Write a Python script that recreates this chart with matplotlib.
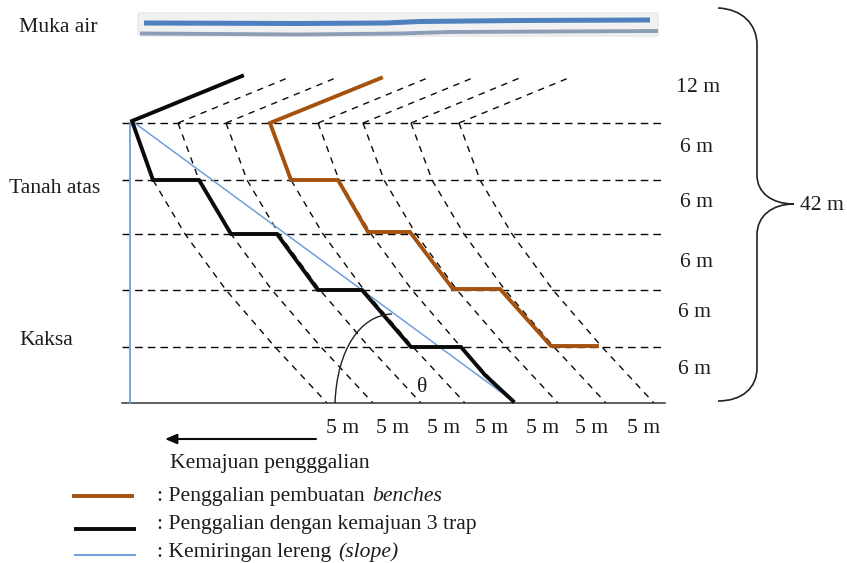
import matplotlib
matplotlib.use("Agg")
import matplotlib.pyplot as plt
from matplotlib.path import Path
from matplotlib.patches import PathPatch, FancyBboxPatch

plt.rcParams['font.family'] = ['Liberation Serif', 'DejaVu Serif']

# Diagram data (picture coordinates)
level_y = [123, 180, 234, 290, 347]
ground_y = 403
slope_top_x = [132, 178, 226, 270, 318, 363, 411, 459]
slope_offset_y = [123, 180, 234, 290, 347, 403]
slope_offset_x = [0, 21, 53, 94, 143, 195]
upper_end_x = [None, 290, 338, None, 430, 475, 522, 571]
upper_end_y = 77

black_x = [242, 132, 153, 199, 231, 277, 318, 362, 411, 461, 485, 513]
black_y = [76, 121, 180, 180, 234, 234, 290, 290, 347, 347, 375, 401]
brown_x = [381, 270, 291, 338, 368, 410, 453, 500, 551, 597]
brown_y = [78, 123, 180, 180, 232, 232, 289, 289, 346, 346]
slope_x = [132, 513]
slope_y = [121, 401]
wall_x = [130, 130]
wall_y = [123, 403]
water_x = [144, 300, 385, 420, 520, 650]
water_y = [23, 23.5, 23, 21.5, 20.5, 20]
shadow_x = [140, 300, 400, 450, 658]
shadow_y = [33.5, 34.5, 33.5, 32, 31]

bottom_labels_x = [343, 393, 444, 492, 543, 592, 644]
bottom_label = "5 m"
right_labels = ["12 m", "6 m", "6 m", "6 m", "6 m", "6 m"]
right_labels_x = [698, 696, 696, 696, 695, 695]
right_labels_y = [86, 146, 201, 261, 311, 368]
left_labels = ["Muka air", "Tanah atas", "Kaksa"]
left_labels_x = [19, 9, 19]
left_labels_y = [26, 187, 339]

BLACK = "#0a0a0a"
BROWN = "#a5520f"
BLUE = "#6f9fdc"
TEXT = "#1c1c1c"
FS = 15.6
DY = 1.5

fig = plt.figure(figsize=(8.47, 5.63), dpi=100)
ax = fig.add_axes([0, 0, 1, 1])
ax.set_xlim(0, 847)
ax.set_ylim(563, 0)
ax.axis("off")


def label(x, y, s, ha="left", **kw):
    ax.text(x, y + DY, s, fontsize=FS, color=TEXT, ha=ha, va="center", **kw)


# Water band
ax.add_patch(FancyBboxPatch((139, 14), 518, 21, boxstyle="round,pad=1,rounding_size=2",
                            fc="#f1f1f1", ec="#e8e8e8", lw=1, zorder=1))
ax.plot(shadow_x, shadow_y, color="#8d9db6", lw=2.8, solid_capstyle="butt", zorder=2)
ax.plot(water_x, water_y, color="#4d80bd", lw=3.6, solid_capstyle="butt", zorder=3)

dash = (0, (5.5, 3.6))
dash2 = (0, (4.6, 4.2))
# Benches levels
for y in level_y:
    ax.plot([122, 665], [y, y], color=BLACK, lw=1.0, ls=dash, zorder=3)

# Dashed slope lines
for x0, xe in zip(slope_top_x, upper_end_x):
    xs = [x0 + dx for dx in slope_offset_x]
    ax.plot(xs, slope_offset_y, color=BLACK, lw=1.0, ls=dash2, zorder=3)
    if xe is not None:
        ax.plot([x0, xe], [123, upper_end_y], color=BLACK, lw=1.0, ls=dash2, zorder=3)

# Ground
ax.plot([122, 665], [ground_y, ground_y], color="#333333", lw=1.1, zorder=4)

# Slope lines
ax.plot(wall_x, wall_y, color=BLUE, lw=1.3, zorder=4)
ax.plot(slope_x, slope_y, color=BLUE, lw=1.1, zorder=4)

# Profiles
ax.plot(brown_x, brown_y, color=BROWN, lw=2.8, solid_joinstyle="miter", zorder=5)
ax.plot(black_x, black_y, color=BLACK, lw=2.8, solid_joinstyle="miter", zorder=6)

# Angle arc
arc = Path([(335, 403), (337, 350), (360, 315), (392, 314)],
           [Path.MOVETO, Path.CURVE4, Path.CURVE4, Path.CURVE4])
ax.add_patch(PathPatch(arc, fc="none", ec="#222222", lw=1.0, zorder=7))
label(422, 386, "θ", ha="center", zorder=8)

# Right brace
brace = Path(
    [(718, 8), (742, 9), (757, 24), (757, 45),
     (757, 175), (757, 193), (772, 204), (794, 204),
     (772, 204), (757, 216), (757, 235),
     (757, 368), (757, 388), (742, 401), (718, 401)],
    [Path.MOVETO, Path.CURVE4, Path.CURVE4, Path.CURVE4,
     Path.LINETO, Path.CURVE4, Path.CURVE4, Path.CURVE4,
     Path.CURVE4, Path.CURVE4, Path.CURVE4,
     Path.LINETO, Path.CURVE4, Path.CURVE4, Path.CURVE4])
ax.add_patch(PathPatch(brace, fc="none", ec="#222222", lw=1.2))

# Labels
for x in bottom_labels_x:
    label(x, 427, bottom_label, ha="center")
for s, x, y in zip(right_labels, right_labels_x, right_labels_y):
    label(x, y, s, ha="center")
label(822, 204, "42 m", ha="center")
for s, x, y in zip(left_labels, left_labels_x, left_labels_y):
    label(x, y, s)

# Advance arrow
ax.annotate("", xy=(165, 439), xytext=(316, 439),
            arrowprops=dict(arrowstyle="-|>,head_length=0.7,head_width=0.3",
                            color=BLACK, lw=1.5, shrinkA=0, shrinkB=0))
label(170, 462, "Kemajuan pengggalian")

# Legend
ax.plot([72, 134], [496, 496], color=BROWN, lw=2.8, solid_capstyle="butt")
ax.plot([74, 136], [529, 529], color=BLACK, lw=2.8, solid_capstyle="butt")
ax.plot([74, 136], [555, 555], color=BLUE, lw=1.4, solid_capstyle="butt")
label(157, 495, ": Penggalian pembuatan")
label(372, 495, "benches", style="italic")
label(157, 523, ": Penggalian dengan kemajuan 3 trap")
label(157, 551, ": Kemiringan lereng")
label(338, 551, "(slope)", style="italic")

fig.savefig("out.png", dpi=100)
